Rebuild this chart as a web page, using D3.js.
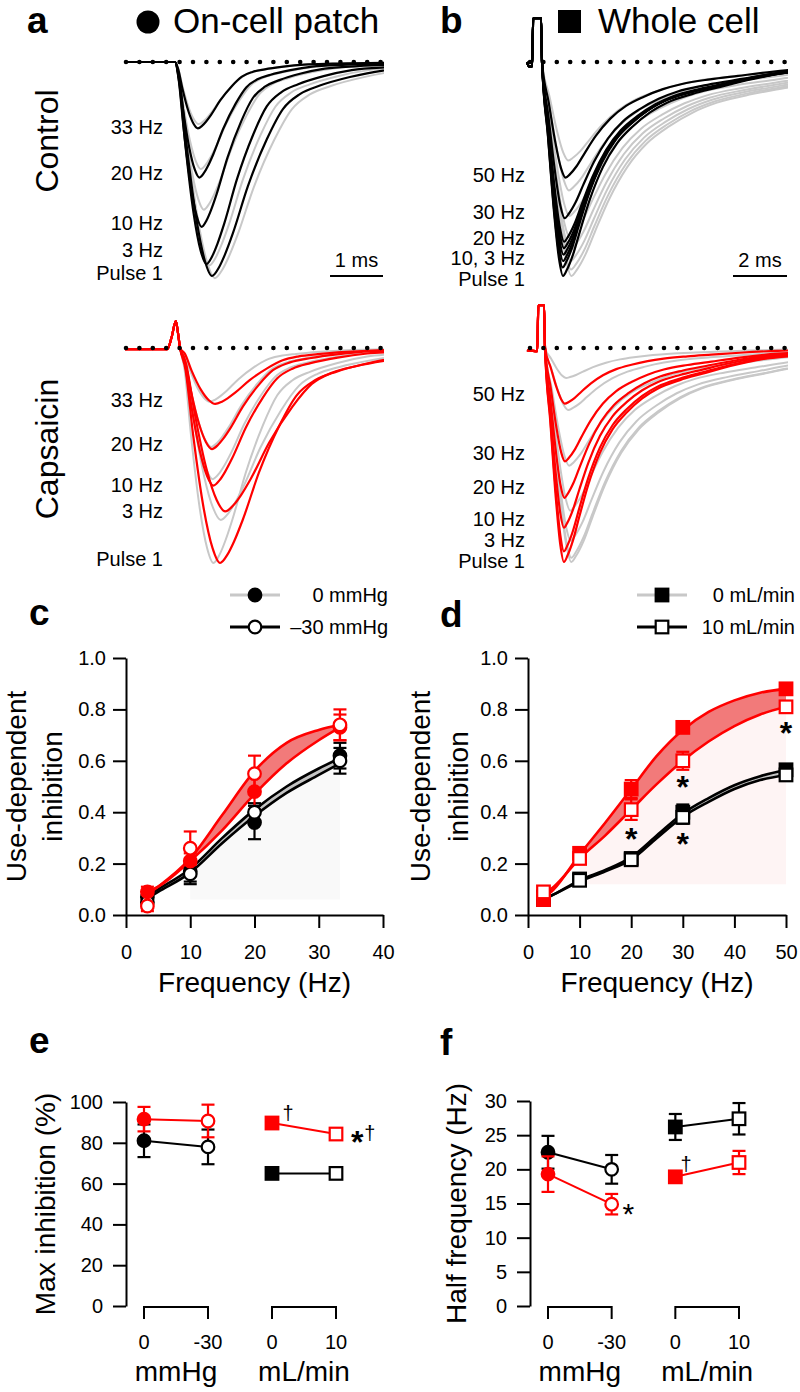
<!DOCTYPE html>
<html>
<head>
<meta charset="utf-8">
<script src="https://cdn.jsdelivr.net/npm/d3@7/dist/d3.min.js"></script>
<style>
html,body{margin:0;padding:0;background:#fff;}
svg{display:block;}
</style>
</head>
<body>
<svg id="fig" width="800" height="1392"></svg>
<script>
const FONT = '"Liberation Sans", Arial, Helvetica, sans-serif';
const RED = '#ff0000', GRAY = '#c8c8c8', BLACK = '#000000';

// ================= DATA =================
// Panels a/b: normalised current-trace templates [time after onset (ms), fraction of peak]
const templateA = [[0,0],[0.094,0.1],[0.226,0.4],[0.415,0.75],[0.566,0.93],[0.698,1.0],[0.83,0.96],[0.943,0.9],[1.094,0.8],[1.377,0.58],[1.736,0.36],[2.038,0.22],[2.358,0.15],[2.736,0.11],[3.302,0.07],[3.925,0.04],[4.8,0.025],[6.5,0.012]];
const templateB = [[0,0],[0.222,0.35],[0.444,0.7],[0.63,0.92],[0.778,1.0],[0.926,0.97],[1.148,0.9],[1.407,0.79],[1.778,0.64],[2.259,0.49],[2.778,0.38],[3.37,0.30],[4.0,0.235],[4.63,0.19],[5.556,0.15],[6.481,0.12],[7.593,0.085],[9.074,0.05],[10.5,0.035],[13,0.02]];
// pre-onset segments (stimulus artefacts), [ms, normalised current]
const preCtrlA = [[0,0]];
const preCapA  = [[0,0.005],[0.8,0.005],[0.88,-0.05],[0.96,-0.125],[1.0,-0.07]];
const preCtrlB = [[0,0],[0.07,0.02],[0.19,0.02],[0.23,-0.205],[0.52,-0.205]];
const preCapB  = [[0,0.01],[0.38,0.015],[0.42,-0.2],[0.63,-0.2]];
const onsetCtrlA = 0.943, onsetCapA = 1.04, onsetCtrlB = 0.556, onsetCapB = 0.667;

const ctrlALabels = ["Pulse 1","3 Hz","10 Hz","20 Hz","33 Hz"];
const ctrlAPeak = [1.0,0.944,0.77,0.54,0.31];
const ctrlAStretch = [1.0,0.85,0.72,0.66,0.62];
const ctrlAGrayPeak = [1.01,0.95,0.69,0.5,0.29];
const ctrlAGrayStretch = [1.08,0.93,0.78,0.7,0.64];

const capALabels = ["Pulse 1","3 Hz","10 Hz","20 Hz","33 Hz"];
const capAPeak = [1.0,0.76,0.64,0.47,0.26];
const capAStretch = [1.08,1.22,0.9,0.86,0.95];
const capAGrayPeak = [1.0,0.8,0.61,0.46,0.25];
const capAGrayStretch = [0.9,1.1,0.88,0.84,0.8];

const ctrlBLabels = ["Pulse 1","10, 3 Hz","20 Hz","30 Hz","50 Hz"];
const ctrlBPeak = [1.0,0.96,0.93,0.9,0.87,0.84,0.73,0.54];
const ctrlBStretch = [1.0,0.98,1.0,1.02,1.04,1.05,1.08,1.12];
const ctrlBGrayPeak = [1.0,0.97,0.93,0.88,0.82,0.72,0.6,0.46];
const ctrlBGrayStretch = [1.4,1.38,1.36,1.34,1.32,1.3,1.28,1.25];

const capBLabels = ["Pulse 1","3 Hz","10 Hz","20 Hz","30 Hz","50 Hz"];
const capBPeak = [1.0,0.95,0.84,0.70,0.53,0.26];
const capBStretch = [0.9,0.9,0.9,0.92,0.95,0.95];
const capBGrayPeak = [1.0,0.98,0.9,0.76,0.55,0.29,0.14];
const capBGrayStretch = [1.25,1.25,1.22,1.2,1.15,1.1,1.0];

// Panel c: use-dependent inhibition vs frequency (on-cell patch)
const freqC = [3.33,10,20,33.3];
const c0mmHgCtrl = [0.07,0.17,0.36,0.62],  c0mmHgCtrlErr = [0.02,0.04,0.065,0.05];
const c30mmHgCtrl = [0.05,0.16,0.40,0.60], c30mmHgCtrlErr = [0.02,0.04,0.035,0.05];
const c0mmHgCap = [0.09,0.21,0.48,0.73],   c0mmHgCapErr = [0.02,0.03,0.07,0.05];
const c30mmHgCap = [0.035,0.26,0.55,0.74], c30mmHgCapErr = [0.02,0.065,0.07,0.06];
const fitFreqC = [3.33,5,10,15,20,25,30,33.3];
const fitCCapHi = [0.08,0.11,0.22,0.39,0.56,0.67,0.72,0.74];
const fitCCapLo = [0.09,0.11,0.21,0.33,0.47,0.59,0.68,0.73];
const fitCCtrlHi = [0.075,0.1,0.18,0.30,0.41,0.50,0.57,0.61];
const fitCCtrlLo = [0.065,0.09,0.165,0.28,0.385,0.475,0.545,0.59];

// Panel d: whole cell
const freqD = [3,10,20,30,50];
const d0Ctrl = [0.06,0.14,0.22,0.40,0.565],  d0CtrlErr = [0.01,0.01,0.01,0.03,0.015];
const d10Ctrl = [0.07,0.135,0.215,0.38,0.545], d10CtrlErr = [0.01,0.01,0.01,0.025,0.02];
const d0Cap = [0.06,0.24,0.49,0.73,0.88],    d0CapErr = [0.01,0.02,0.035,0.02,0.015];
const d10Cap = [0.09,0.22,0.41,0.60,0.81],   d10CapErr = [0.01,0.02,0.04,0.035,0.02];
const fitFreqD = [3,5,10,15,20,25,30,35,40,45,50];
const fitDCapHi = [0.065,0.1,0.235,0.36,0.49,0.62,0.72,0.79,0.835,0.865,0.88];
const fitDCapLo = [0.08,0.11,0.22,0.31,0.41,0.51,0.60,0.675,0.735,0.78,0.81];
const fitDCtrlHi = [0.06,0.08,0.135,0.175,0.225,0.31,0.395,0.455,0.505,0.54,0.565];
const fitDCtrlLo = [0.06,0.08,0.13,0.17,0.215,0.30,0.382,0.44,0.49,0.525,0.545];
const dStars = [[20,0.32],[30,0.52],[30,0.30],[50,0.73]];

// Panels e, f
const condLabels = ["0","-30","0","10"];
const groupLabels = ["mmHg","mL/min"];
const condShape = ["circle","circle","square","square"];
const condFilled = [true,false,true,false];
const eCtrl = [81,78,65,65],       eCtrlErr = [8,8.5,1,1];
const eCap = [91.6,90.7,89.7,84.3], eCapErr = [6,8,1.5,1];
const fCtrl = [22.5,20.0,26.2,27.4], fCtrlErr = [2.4,2.1,1.9,2.3];
const fCap = [19.3,14.9,18.9,21.0],  fCapErr = [2.6,1.5,0.5,1.7];
const eNotes = [[2.25,94,"†",20,false],[3.33,84,"*",32,true],[3.53,84.5,"†",20,false]];
const fNotes = [[1.26,14.5,"*",30,false],[2.17,20.6,"†",20,false]];

// ================= DRAWING =================
const svg = d3.select('#fig');
svg.attr('font-family', FONT);

function txt(x, y, s, size, opts = {}) {
  const t = svg.append('text').attr('x', x).attr('y', y).text(s)
    .attr('font-size', size).attr('font-family', FONT).attr('fill', opts.fill || '#000');
  if (opts.anchor) t.attr('text-anchor', opts.anchor);
  if (opts.bold) t.attr('font-weight', 'bold');
  if (opts.rot) t.attr('transform', `rotate(-90,${x},${y})`);
  return t;
}

// Panel letters & titles
txt(27, 33, 'a', 37, {bold: true});
txt(440, 33, 'b', 37, {bold: true});
txt(29, 625, 'c', 37, {bold: true});
txt(440, 627, 'd', 37, {bold: true});
txt(29, 1053, 'e', 37, {bold: true});
txt(440, 1055, 'f', 37, {bold: true});
svg.append('circle').attr('cx', 148).attr('cy', 22).attr('r', 11.5).attr('fill', '#000');
txt(173, 33, 'On-cell patch', 35);
svg.append('rect').attr('x', 558).attr('y', 10).attr('width', 23).attr('height', 23).attr('fill', '#000');
txt(598, 33, 'Whole cell', 35);
txt(58, 141, 'Control', 32, {anchor: 'middle', rot: true});
txt(58, 449, 'Capsaicin', 32, {anchor: 'middle', rot: true});

// ---- traces ----
function buildTrace(pre, tmpl, onset, peak, stretch) {
  const pts = pre.map(p => [p[0], p[1]]);
  tmpl.forEach(([t, v]) => pts.push([onset + t * stretch, v * peak]));
  return pts;
}
const clipDefs = svg.append('defs');
function tracePanel(id, x, y, pre, tmpl, onset, mainPeak, mainStr, grayPeak, grayStr, color, labels, labelY, labelX, dotX0, dotX1, barMs, barLabel) {
  clipDefs.append('clipPath').attr('id', id).append('rect')
    .attr('x', x.range()[0] - 2).attr('y', y.range()[0] - 60)
    .attr('width', x.range()[1] - x.range()[0] + 3).attr('height', 320);
  const g = svg.append('g').attr('clip-path', `url(#${id})`);
  const line = d3.line().x(d => x(d[0])).y(d => y(d[1])).curve(d3.curveMonotoneX);
  const grays = grayPeak.map((p, i) => buildTrace(pre, tmpl, onset, p, grayStr[i]));
  const mains = mainPeak.map((p, i) => buildTrace(pre, tmpl, onset, p, mainStr[i]));
  g.selectAll(null).data(grays).join('path').attr('d', line).attr('fill', 'none')
    .attr('stroke', GRAY).attr('stroke-width', 2).attr('stroke-linejoin', 'round');
  g.selectAll(null).data(mains).join('path').attr('d', line).attr('fill', 'none')
    .attr('stroke', color).attr('stroke-width', 2.2).attr('stroke-linejoin', 'round');
  // dotted zero line
  svg.append('line').attr('x1', dotX0).attr('x2', dotX1).attr('y1', y(0)).attr('y2', y(0))
    .attr('stroke', '#000').attr('stroke-width', 4.6).attr('stroke-linecap', 'round')
    .attr('stroke-dasharray', '0 13.4');
  labels.forEach((s, i) => txt(labelX, labelY[i] + 7, s, 20, {anchor: 'end'}));
  if (barMs) {
    const xe = x.domain()[1];
    const bx0 = x(xe - barMs), bx1 = x(xe);
    svg.append('line').attr('x1', bx0).attr('x2', bx1).attr('y1', 276).attr('y2', 276)
      .attr('stroke', '#000').attr('stroke-width', 2);
    txt((bx0 + bx1) / 2, 267, barLabel, 20, {anchor: 'middle'});
  }
}
const xA = d3.scaleLinear([0, 4.87], [125, 383]);
const xB = d3.scaleLinear([0, 9.63], [527, 787]);
const yCtrlA = d3.scaleLinear([0, 1], [62, 276]);
const yCapA = d3.scaleLinear([0, 1], [348, 563]);
const yCtrlB = d3.scaleLinear([0, 1], [62, 276]);
const yCapB = d3.scaleLinear([0, 1], [348, 562]);

tracePanel('clipA1', xA, yCtrlA, preCtrlA, templateA, onsetCtrlA, ctrlAPeak, ctrlAStretch, ctrlAGrayPeak, ctrlAGrayStretch, BLACK,
  ctrlALabels, [273, 250, 223, 173, 127], 163, 126, 382, 1, '1 ms');
tracePanel('clipA2', xA, yCapA, preCapA, templateA, onsetCapA, capAPeak, capAStretch, capAGrayPeak, capAGrayStretch, RED,
  capALabels, [559, 511, 485, 444, 400], 163, 126, 382, 0, '');
tracePanel('clipB1', xB, yCtrlB, preCtrlB, templateB, onsetCtrlB, ctrlBPeak, ctrlBStretch, ctrlBGrayPeak, ctrlBGrayStretch, BLACK,
  ctrlBLabels, [279, 258, 238, 212, 175], 525, 530, 785, 2, '2 ms');
tracePanel('clipB2', xB, yCapB, preCapB, templateB, onsetCapB, capBPeak, capBStretch, capBGrayPeak, capBGrayStretch, RED,
  capBLabels, [561, 540, 519, 487, 453, 394], 525, 530, 785, 0, '');

// ---- axis helper ----
function styleAxis(g) {
  g.attr('font-family', FONT).attr('font-size', 20);
  g.selectAll('path.domain').attr('stroke-width', 2);
  g.selectAll('.tick line').attr('stroke-width', 2);
  g.selectAll('.tick text').attr('fill', '#000');
}

function marker(g, shape, filled, color, cx, cy) {
  const fill = filled ? color : '#fff';
  if (shape === 'circle') {
    g.append('circle').attr('cx', cx).attr('cy', cy).attr('r', 6.3)
      .attr('fill', fill).attr('stroke', color).attr('stroke-width', 2.2);
  } else {
    g.append('rect').attr('x', cx - 6.3).attr('y', cy - 6.3).attr('width', 12.6).attr('height', 12.6)
      .attr('fill', fill).attr('stroke', color).attr('stroke-width', 2.2);
  }
}
function errBar(g, color, cx, lo, hi) {
  g.append('line').attr('x1', cx).attr('x2', cx).attr('y1', lo).attr('y2', hi)
    .attr('stroke', color).attr('stroke-width', 2.2);
  [lo, hi].forEach(yy => g.append('line').attr('x1', cx - 6.5).attr('x2', cx + 6.5)
    .attr('y1', yy).attr('y2', yy).attr('stroke', color).attr('stroke-width', 2.2));
}

// ---- panels c, d ----
function freqPanel(x, y, xTicks, fitF, ctrlHi, ctrlLo, capHi, capLo, shadeFrom, shadeBase, shadeColor,
                   series, shape, titleX, titleLines, legendX, legendTexts) {
  const g = svg.append('g');
  const pts = (arr) => fitF.map((f, i) => [f, arr[i]]);
  // faint shading
  const shade = fitF.map((f, i) => ({f, v: (shadeColor === 'gray' ? ctrlLo : capLo)[i]})).filter(d => d.f >= shadeFrom);
  g.append('path').datum(shade)
    .attr('d', d3.area().x(d => x(d.f)).y0(y(shadeBase)).y1(d => y(d.v)).curve(d3.curveMonotoneX))
    .attr('fill', shadeColor === 'gray' ? '#f9f9f9' : '#fef4f4');
  const band = (hi, lo, fill, stroke) => {
    const data = fitF.map((f, i) => ({f, hi: hi[i], lo: lo[i]}));
    g.append('path').datum(data)
      .attr('d', d3.area().x(d => x(d.f)).y0(d => y(d.lo)).y1(d => y(d.hi)).curve(d3.curveMonotoneX))
      .attr('fill', fill);
    [hi, lo].forEach(arr => g.append('path').datum(pts(arr))
      .attr('d', d3.line().x(d => x(d[0])).y(d => y(d[1])).curve(d3.curveMonotoneX))
      .attr('fill', 'none').attr('stroke', stroke).attr('stroke-width', 2.6));
  };
  band(ctrlHi, ctrlLo, '#c4c4c4', BLACK);
  band(capHi, capLo, '#f27a7a', RED);
  series.forEach(s => {
    s.freq.forEach((f, i) => errBar(g, s.color, x(f), y(s.mean[i] - s.err[i]), y(s.mean[i] + s.err[i])));
  });
  series.forEach(s => {
    s.freq.forEach((f, i) => marker(g, shape, s.filled, s.color, x(f), y(s.mean[i])));
  });
  // axes
  const ax = svg.append('g').attr('transform', `translate(0,${y(0)})`)
    .call(d3.axisBottom(x).tickValues(xTicks).tickSize(13).tickPadding(17).tickSizeOuter(0));
  styleAxis(ax);
  const ay = svg.append('g').attr('transform', `translate(${x(0)},0)`)
    .call(d3.axisLeft(y).tickValues([0, 0.2, 0.4, 0.6, 0.8, 1.0]).tickFormat(d3.format('.1f'))
      .tickSize(13).tickPadding(7).tickSizeOuter(0));
  styleAxis(ay);
  const cx = (x.range()[0] + x.range()[1]) / 2;
  txt(cx, 992, 'Frequency (Hz)', 28, {anchor: 'middle'});
  const cy = (y.range()[0] + y.range()[1]) / 2;
  txt(titleX[0], cy, titleLines[0], 28, {anchor: 'middle', rot: true});
  txt(titleX[1], cy, titleLines[1], 28, {anchor: 'middle', rot: true});
  // legend
  const rows = [595, 627];
  rows.forEach((ry, i) => {
    svg.append('line').attr('x1', legendX).attr('x2', legendX + 50).attr('y1', ry).attr('y2', ry)
      .attr('stroke', i === 0 ? GRAY : BLACK).attr('stroke-width', 3);
    marker(svg, shape, i === 0, BLACK, legendX + 25, ry);
    txt(legendX + 158, ry + 7, legendTexts[i], 20, {anchor: 'end'});
  });
}

const xC = d3.scaleLinear([0, 40], [126, 383]);
const yC = d3.scaleLinear([0, 1], [915, 658]);
freqPanel(xC, yC, [0, 10, 20, 30, 40], fitFreqC, fitCCtrlHi, fitCCtrlLo, fitCCapHi, fitCCapLo, 10, 0.06, 'gray',
  [
    {freq: freqC, mean: c0mmHgCtrl, err: c0mmHgCtrlErr, color: BLACK, filled: true},
    {freq: freqC, mean: c30mmHgCtrl, err: c30mmHgCtrlErr, color: BLACK, filled: false},
    {freq: freqC, mean: c0mmHgCap, err: c0mmHgCapErr, color: RED, filled: true},
    {freq: freqC, mean: c30mmHgCap, err: c30mmHgCapErr, color: RED, filled: false},
  ], 'circle', [26, 62], ['Use-dependent', 'inhibition'], 230, ['0 mmHg', '\u201330 mmHg']);

const xD = d3.scaleLinear([0, 50], [528, 786]);
const yD = d3.scaleLinear([0, 1], [915, 658]);
freqPanel(xD, yD, [0, 10, 20, 30, 40, 50], fitFreqD, fitDCtrlHi, fitDCtrlLo, fitDCapHi, fitDCapLo, 10, 0.12, 'pink',
  [
    {freq: freqD, mean: d0Ctrl, err: d0CtrlErr, color: BLACK, filled: true},
    {freq: freqD, mean: d10Ctrl, err: d10CtrlErr, color: BLACK, filled: false},
    {freq: freqD, mean: d0Cap, err: d0CapErr, color: RED, filled: true},
    {freq: freqD, mean: d10Cap, err: d10CapErr, color: RED, filled: false},
  ], 'square', [430, 468], ['Use-dependent', 'inhibition'], 637, ['0 mL/min', '10 mL/min']);
dStars.forEach(([f, v]) => txt(xD(f), yD(v) + 17, '*', 32, {anchor: 'middle', bold: true}));

// ---- panels e, f ----
function summaryPanel(x, y, ticks, ctrl, ctrlErr, cap, capErr, notes, title, titleX) {
  const g = svg.append('g');
  [[ctrl, ctrlErr, BLACK], [cap, capErr, RED]].forEach(([m, e, col]) => {
    [[0, 1], [2, 3]].forEach(([a, b]) => g.append('line')
      .attr('x1', x(a)).attr('x2', x(b)).attr('y1', y(m[a])).attr('y2', y(m[b]))
      .attr('stroke', col).attr('stroke-width', 2));
    m.forEach((v, i) => errBar(g, col, x(i), y(v - e[i]), y(v + e[i])));
    m.forEach((v, i) => marker(g, condShape[i], condFilled[i], col, x(i), y(v)));
  });
  const ay = svg.append('g').attr('transform', `translate(${x.range()[0] - 18},0)`)
    .call(d3.axisLeft(y).tickValues(ticks).tickSize(13).tickPadding(10).tickSizeOuter(0));
  styleAxis(ay);
  // category brackets
  const yb = y(0) + 1;
  [[0, 1], [2, 3]].forEach(([a, b], k) => {
    svg.append('path').attr('d', `M${x(a)},${yb + 12}V${yb}H${x(b)}V${yb + 12}`)
      .attr('fill', 'none').attr('stroke', '#000').attr('stroke-width', 2);
    txt((x(a) + x(b)) / 2, 1381, groupLabels[k], 28, {anchor: 'middle'});
  });
  condLabels.forEach((s, i) => txt(x(i), 1349, s, 20, {anchor: 'middle'}));
  notes.forEach(([xi, v, s, size, bold]) => {
    const off = s === '*' ? 0.56 * size : 0.3 * size;
    txt(x(xi), y(v) + off, s, size, {anchor: 'middle', bold});
  });
  txt(titleX, (y.range()[0] + y.range()[1]) / 2, title, 28, {anchor: 'middle', rot: true});
}
const xE = d3.scaleLinear([0, 3], [144, 336]);
const yE = d3.scaleLinear([0, 100], [1306, 1102]);
summaryPanel(xE, yE, [0, 20, 40, 60, 80, 100], eCtrl, eCtrlErr, eCap, eCapErr, eNotes, 'Max inhibition (%)', 55);
const xF = d3.scaleLinear([0, 3], [548, 739]);
const yF = d3.scaleLinear([0, 30], [1306, 1101]);
summaryPanel(xF, yF, [0, 5, 10, 15, 20, 25, 30], fCtrl, fCtrlErr, fCap, fCapErr, fNotes, 'Half frequency (Hz)', 466);
</script>
</body>
</html>
